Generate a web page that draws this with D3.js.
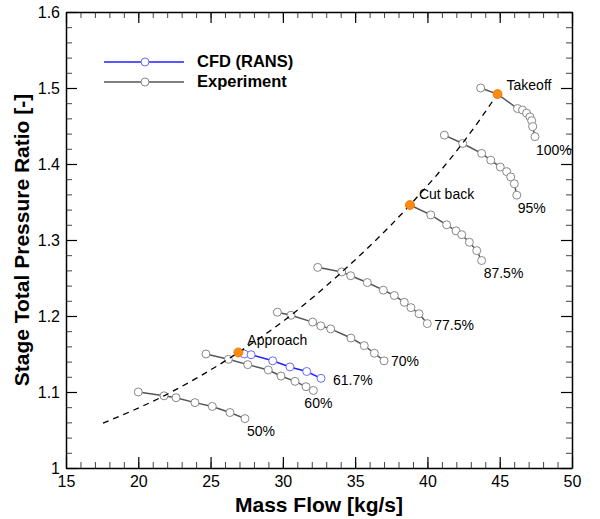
<!DOCTYPE html>
<html>
<head>
<meta charset="utf-8">
<script src="https://cdn.jsdelivr.net/npm/d3@7"></script>
<style>
  body { margin: 0; background: #fff; }
  svg { font-family: "Liberation Sans", Arial, Helvetica, sans-serif; }
</style>
</head>
<body>
<svg id="chart" width="600" height="519"></svg>
<script>
// speed lines, [mass flow, pressure ratio]
const speed50 = [[20.0, 1.100], [21.78, 1.095], [22.61, 1.0925], [23.92, 1.086], [25.12, 1.081], [26.34, 1.073], [27.38, 1.065]];
const speed60 = [[24.68, 1.150], [26.23, 1.143], [27.57, 1.136], [28.99, 1.129], [29.87, 1.121], [30.84, 1.114], [31.60, 1.107], [32.11, 1.102]];
const speed617cfd = [[27.33, 1.150], [27.80, 1.149], [29.30, 1.141], [30.49, 1.133], [31.65, 1.127], [32.64, 1.118]];
const speed70 = [[29.62, 1.205], [30.56, 1.201], [32.06, 1.192], [32.62, 1.187], [33.31, 1.183], [34.71, 1.171], [35.63, 1.161], [36.33, 1.151], [37.0, 1.141]];
const speed775 = [[32.41, 1.264], [34.07, 1.258], [34.69, 1.253], [35.84, 1.244], [36.95, 1.234], [37.71, 1.227], [38.40, 1.218], [38.86, 1.211], [39.42, 1.203], [39.99, 1.190]];
const speed875 = [[38.79, 1.346], [40.23, 1.333], [41.33, 1.320], [41.98, 1.312], [42.37, 1.307], [42.90, 1.297], [43.41, 1.286], [43.75, 1.273]];
const speed95 = [[41.17, 1.438], [42.44, 1.427], [43.75, 1.414], [44.38, 1.405], [45.04, 1.396], [45.48, 1.390], [45.76, 1.383], [46.01, 1.374], [46.18, 1.359]];
const speed100 = [[43.68, 1.500], [44.85, 1.492], [46.23, 1.473], [46.58, 1.471], [46.86, 1.467], [47.09, 1.462], [47.21, 1.457], [47.28, 1.449], [47.44, 1.436]];

const operatingLine = [[17.56, 1.059], [21.78, 1.095], [26.92, 1.152], [30.56, 1.201], [34.09, 1.258], [38.79, 1.346], [42.46, 1.428], [44.85, 1.492]];

const opPoints = [[26.92, 1.152], [38.79, 1.346], [44.85, 1.492]];
const opNames = ['Approach', 'Cut back', 'Takeoff'];

const expLines = [speed50, speed60, speed70, speed775, speed875, speed95, speed100];
const expNames = ['50%', '60%', '70%', '77.5%', '87.5%', '95%', '100%'];
const cfdName = '61.7%';

const xTicks = [15, 20, 25, 30, 35, 40, 45, 50];
const yTicks = [1, 1.1, 1.2, 1.3, 1.4, 1.5, 1.6];
const legendNames = ['CFD (RANS)', 'Experiment'];

const svg = d3.select('#chart');
const plotLeft = 66, plotRight = 572, plotTop = 12, plotBottom = 468;

const x = d3.scaleLinear().domain([15, 50]).range([plotLeft, plotRight]);
const y = d3.scaleLinear().domain([1, 1.6]).range([plotBottom, plotTop]);

const xMinor = d3.range(15, 50.01, 1);
const yMinor = d3.range(1, 1.6001, 0.02);

function styleAxis(g) {
    g.select('.domain').attr('stroke', '#000').attr('stroke-width', 1.5);
    g.selectAll('.tick line').attr('stroke', '#000').attr('stroke-width', 1.2);
    g.selectAll('.tick text').attr('fill', '#000').attr('font-size', 16);
}

// minor ticks first
function minor(axis, pos) {
    svg.append('g').attr('transform', pos)
        .call(axis.tickSize(-6).tickFormat(''))
        .call(g => g.select('.domain').remove())
        .selectAll('line').attr('stroke', '#444');
}
minor(d3.axisBottom(x).tickValues(xMinor), `translate(0,${plotBottom})`);
minor(d3.axisTop(x).tickValues(xMinor), `translate(0,${plotTop})`);
minor(d3.axisLeft(y).tickValues(yMinor), `translate(${plotLeft},0)`);
minor(d3.axisRight(y).tickValues(yMinor), `translate(${plotRight},0)`);

// major ticks + frame
svg.append('g').attr('transform', `translate(0,${plotBottom})`)
    .call(d3.axisBottom(x).tickValues(xTicks).tickSize(-11).tickSizeOuter(0).tickPadding(8).tickFormat(d3.format('~g')))
    .call(styleAxis);
svg.append('g').attr('transform', `translate(0,${plotTop})`)
    .call(d3.axisTop(x).tickValues(xTicks).tickSize(-11).tickSizeOuter(0).tickFormat(''))
    .call(styleAxis);
svg.append('g').attr('transform', `translate(${plotLeft},0)`)
    .call(d3.axisLeft(y).tickValues(yTicks).tickSize(-11).tickSizeOuter(0).tickPadding(6).tickFormat(d3.format('~g')))
    .call(styleAxis);
svg.append('g').attr('transform', `translate(${plotRight},0)`)
    .call(d3.axisRight(y).tickValues(yTicks).tickSize(-11).tickSizeOuter(0).tickFormat(''))
    .call(styleAxis);

// axis titles
svg.append('text')
    .attr('x', (plotLeft + plotRight) / 2).attr('y', 512)
    .attr('text-anchor', 'middle')
    .attr('font-size', 21).attr('font-weight', 'bold')
    .text('Mass Flow [kg/s]');
svg.append('text')
    .attr('transform', `translate(29,${(plotTop + plotBottom) / 2}) rotate(-90)`)
    .attr('text-anchor', 'middle')
    .attr('font-size', 21).attr('font-weight', 'bold')
    .text('Stage Total Pressure Ratio [-]');

const line = d3.line().x(d => x(d[0])).y(d => y(d[1]));
const gray = '#555', markerGray = '#888', blue = '#2020ff';

function drawSeries(data, color, markerColor) {
    svg.append('path').datum(data)
        .attr('d', line)
        .attr('fill', 'none')
        .attr('stroke', color)
        .attr('stroke-width', 1.5);
    svg.append('g').selectAll('circle').data(data).join('circle')
        .attr('cx', d => x(d[0])).attr('cy', d => y(d[1]))
        .attr('r', 4)
        .attr('fill', '#fff')
        .attr('stroke', markerColor)
        .attr('stroke-width', 1);
}

expLines.forEach(s => drawSeries(s, gray, markerGray));
drawSeries(speed617cfd, blue, '#6a6aff');

// operating line
svg.append('path').datum(operatingLine)
    .attr('d', line.curve(d3.curveMonotoneX))
    .attr('fill', 'none')
    .attr('stroke', '#000')
    .attr('stroke-width', 1.3)
    .attr('stroke-dasharray', '6,5');
line.curve(d3.curveLinear);

svg.append('g').selectAll('circle').data(opPoints).join('circle')
    .attr('cx', d => x(d[0])).attr('cy', d => y(d[1]))
    .attr('r', 4.5)
    .attr('fill', '#ff8a12')
    .attr('stroke', '#f07800')
    .attr('stroke-width', 0.8);

// labels
const labelOffsets = {
    '50%': [2, 17], '60%': [-9, 18], '70%': [7, 5], '77.5%': [7, 6],
    '87.5%': [2, 17], '95%': [1, 18], '100%': [1, 18], '61.7%': [12, 7]
};
function speedLabel(data, name) {
    const last = data[data.length - 1];
    const [dx, dy] = labelOffsets[name];
    svg.append('text')
        .attr('x', x(last[0]) + dx).attr('y', y(last[1]) + dy)
        .attr('font-size', 14)
        .text(name);
}
expLines.forEach((s, i) => speedLabel(s, expNames[i]));
speedLabel(speed617cfd, cfdName);

const opOffsets = [[9, -7], [9, -6], [9, -4]];
opPoints.forEach((p, i) => {
    svg.append('text')
        .attr('x', x(p[0]) + opOffsets[i][0]).attr('y', y(p[1]) + opOffsets[i][1])
        .attr('font-size', 14)
        .text(opNames[i]);
});

// legend
const legend = svg.append('g').attr('transform', 'translate(104,62)');
[[blue, '#6a6aff'], [gray, markerGray]].forEach((c, i) => {
    const row = legend.append('g').attr('transform', `translate(0,${i * 20})`);
    row.append('line').attr('x1', 0).attr('x2', 80)
        .attr('stroke', c[0]).attr('stroke-width', 1.5);
    row.append('circle').attr('cx', 41).attr('r', 4)
        .attr('fill', '#fff').attr('stroke', c[1]);
    row.append('text').attr('x', 93).attr('y', 5)
        .attr('font-size', 16.5).attr('font-weight', 'bold')
        .text(legendNames[i]);
});
</script>
</body>
</html>
